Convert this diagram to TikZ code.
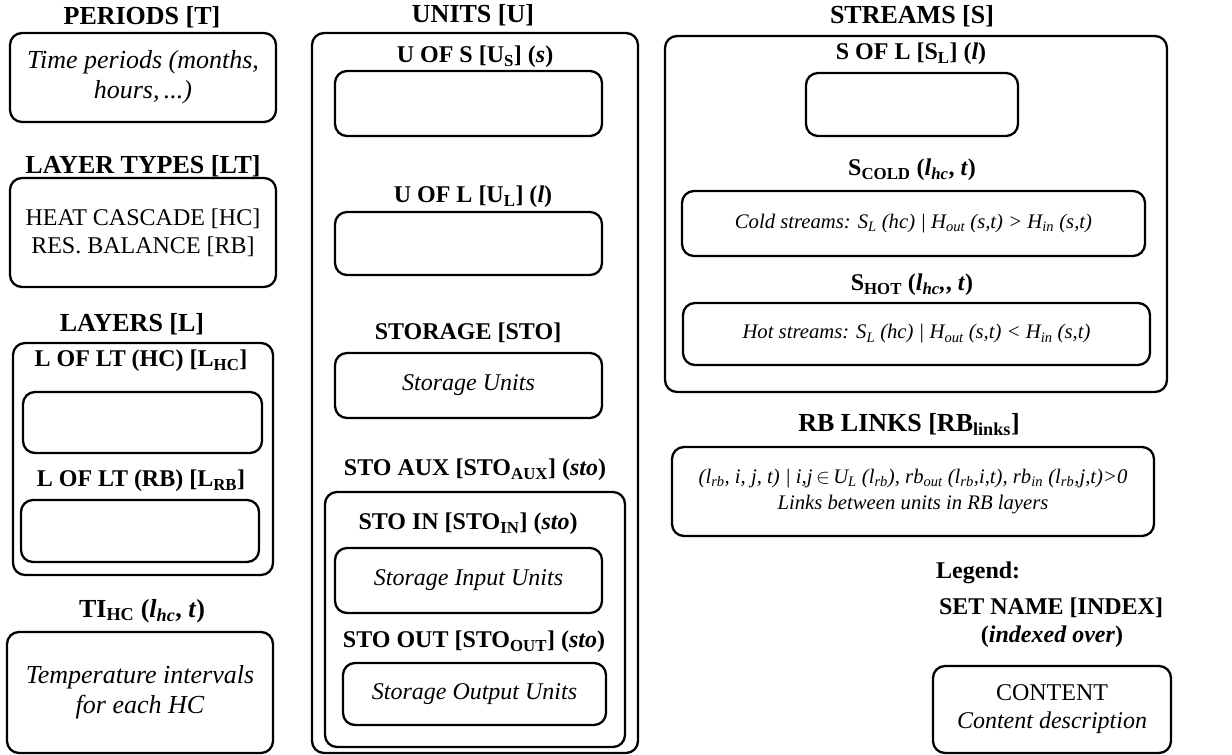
\documentclass[tikz,border=0pt]{standalone}
\usepackage{fontspec}
\setmainfont{Liberation Serif}
\newcommand{\fsbig}{\fontsize{26}{30}\selectfont}
\newcommand{\fsmid}{\fontsize{24}{28}\selectfont}
\newcommand{\fssmall}{\fontsize{20.7}{25.5}\selectfont}
\newcommand{\lo}[1]{\textsubscript{#1}}
\newcommand{\bi}[1]{\textbf{\textit{#1}}}
\tikzset{
  setbox/.style={draw, rounded corners=12pt, line width=2.3pt, inner sep=0pt, align=center},
  settitle/.style={font=\bfseries\fsbig, inner sep=0pt},
  subtitle/.style={font=\bfseries\fsmid, inner sep=0pt},
}
\begin{document}
\begin{tikzpicture}[x=1pt,y=-1pt]
      %\draw [help lines] (0,0) grid (1232,755);
      \useasboundingbox (0,0) rectangle (1232,755);
      % left column
      \node[settitle] (periodsT) at (142,17) {PERIODS [T]};
      \node[setbox, minimum width=266pt, minimum height=89pt, font=\itshape\fsbig] (periods) at (143,77.5) {Time periods (months,\\hours,\,...)};
      \node[settitle] (layertypesT) at (143,166) {LAYER TYPES [LT]};
      \node[setbox, minimum width=266pt, minimum height=109pt, font=\fsmid] (layertypes) at (143,232.5) {HEAT CASCADE [HC]\\RES. BALANCE [RB]};
      \node[settitle] (layersT) at (132,324) {LAYERS [L]};
      \node[setbox, minimum width=260pt, minimum height=232pt] (layers) at (143,459) {};
      \node[subtitle] (lhcT) at (141,361) {L OF LT (HC) [L\lo{HC}]};
      \node[setbox, minimum width=239pt, minimum height=61pt] (lhc) at (142.5,422.5) {};
      \node[subtitle] (lrbT) at (141,481) {L OF LT (RB) [L\lo{RB}]};
      \node[setbox, minimum width=238pt, minimum height=62pt] (lrb) at (140,531) {};
      \node[settitle] (tiT) at (142,611) {TI\lo{HC} (\bi{l\lo{hc}}, \bi{t})};
      \node[setbox, minimum width=266pt, minimum height=121pt, font=\itshape\fsbig] (ti) at (140,692.5) {Temperature intervals\\for each HC};

      % middle column
      \node[settitle] (unitsT) at (473,15) {UNITS [U]};
      \node[setbox, minimum width=326pt, minimum height=720pt] (units) at (475,393) {};
      \node[subtitle] (usT) at (475,57) {U OF S [U\lo{S}] (\bi{s})};
      \node[setbox, minimum width=267pt, minimum height=65pt] (us) at (468.5,103.5) {};
      \node[subtitle] (ulT) at (473,197) {U OF L [U\lo{L}] (\bi{l})};
      \node[setbox, minimum width=267pt, minimum height=63pt] (ul) at (468.5,243.5) {};
      \node[subtitle] (stoT) at (468,333) {STORAGE [STO]};
      \node[setbox, minimum width=267pt, minimum height=65pt, font=\itshape\fsmid] (sto) at (468.5,385.5) {Storage Units};
      \node[subtitle] (stoauxT) at (475,470) {STO AUX [STO\lo{AUX}] (\bi{sto})};
      \node[setbox, minimum width=300pt, minimum height=255pt] (stoaux) at (475,619.5) {};
      \node[subtitle] (stoinT) at (468,524) {STO IN [STO\lo{IN}] (\bi{sto})};
      \node[setbox, minimum width=267pt, minimum height=65pt, font=\itshape\fsmid] (stoin) at (468.5,580.5) {Storage Input Units};
      \node[subtitle] (stooutT) at (474,642) {STO OUT [STO\lo{OUT}] (\bi{sto})};
      \node[setbox, minimum width=263pt, minimum height=62pt, font=\itshape\fsmid] (stoout) at (474.5,694) {Storage Output Units};

      % right column
      \node[settitle] (streamsT) at (912,16) {STREAMS [S]};
      \node[setbox, minimum width=502pt, minimum height=356pt] (streams) at (916,214) {};
      \node[subtitle] (slT) at (911,54) {S OF L [S\lo{L}] (\bi{l})};
      \node[setbox, minimum width=212pt, minimum height=63pt] (sl) at (912,104.5) {};
      \node[subtitle] (coldT) at (912,170) {S\lo{COLD} (\bi{l\lo{hc}}, \bi{t})};
      \node[setbox, minimum width=463pt, minimum height=65pt, font=\itshape\fssmall] (cold) at (913.5,223.5) {Cold streams: S\lo{L} (hc) | H\lo{out} (s,t) > H\lo{in} (s,t)};
      \node[subtitle] (hotT) at (912,285) {S\lo{HOT} (\bi{l\lo{hc},}, \bi{t})};
      \node[setbox, minimum width=467pt, minimum height=62pt, font=\itshape\fssmall] (hot) at (916.5,334) {Hot streams: S\lo{L} (hc) | H\lo{out} (s,t) < H\lo{in} (s,t)};
      \node[settitle] (rblinksT) at (909,425) {RB LINKS [RB\lo{links}]};
      \node[setbox, minimum width=482pt, minimum height=89pt, font=\itshape\fssmall] (rblinks) at (913,491.5) {(l\lo{rb}, i, j, t) | i,j\,$\in$\,U\lo{L} (l\lo{rb}), rb\lo{out} (l\lo{rb},i,t), rb\lo{in} (l\lo{rb},j,t)>0\\Links between units in RB layers};

      % legend
      \node[subtitle, anchor=west] (legendT) at (936,573) {Legend:};
      \node[subtitle] (setname) at (1051,608) {SET NAME [INDEX]};
      \node[subtitle] (indexed) at (1052,637) {(\textit{indexed over})};
      \node[setbox, minimum width=238pt, minimum height=87pt, font=\fsmid] (legend) at (1052,709.5) {CONTENT\\\textit{Content description}};
    \end{tikzpicture}
\end{document}
